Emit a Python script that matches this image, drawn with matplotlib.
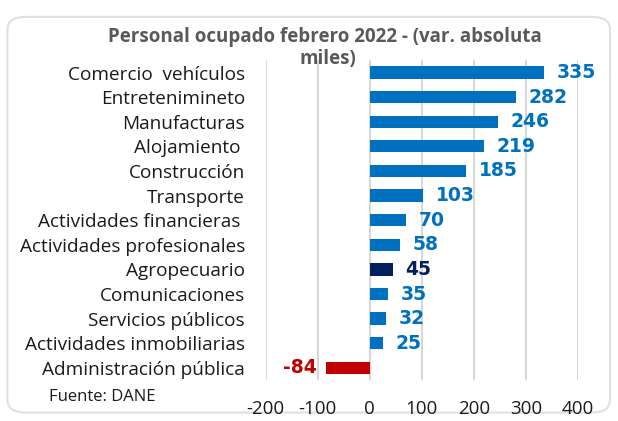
import matplotlib.pyplot as plt
from matplotlib.patches import FancyBboxPatch

# datos (var. absoluta, miles)
sectores = ['Comercio  vehículos', 'Entretenimineto', 'Manufacturas', 'Alojamiento ',
            'Construcción', 'Transporte', 'Actividades financieras ',
            'Actividades profesionales', 'Agropecuario', 'Comunicaciones',
            'Servicios públicos', 'Actividades inmobiliarias', 'Administración pública']
valores = [335, 282, 246, 219, 185, 103, 70, 58, 45, 35, 32, 25, -84]
colores = ['#0070C0'] * 8 + ['#002060'] + ['#0070C0'] * 3 + ['#C00000']
ticks_x = [-200, -100, 0, 100, 200, 300, 400]

fig = plt.figure(figsize=(6.18, 4.21), dpi=100)
fig.patches.append(FancyBboxPatch((0.012, 0.02), 0.975, 0.94, boxstyle='round,pad=0,rounding_size=0.03',
                                  transform=fig.transFigure, facecolor='white',
                                  edgecolor='#e0e0e0', linewidth=1.5, zorder=-1))

ax = fig.add_axes([0.43, 0.097, 0.505, 0.76])
y = list(range(len(sectores)))
ax.barh(y, valores, color=colores, height=0.5, zorder=3)

for yi, v, c in zip(y, valores, colores):
    if v >= 0:
        ax.annotate(str(v), (v, yi), xytext=(9, 0), textcoords='offset points',
                    ha='left', va='center', color=c, fontsize=13.5, fontweight='bold')
    else:
        ax.annotate(str(v), (v, yi), xytext=(-7, 0), textcoords='offset points',
                    ha='right', va='center', color=c, fontsize=13.5, fontweight='bold')

ax.set_xlim(-200, 400)
ax.set_ylim(len(sectores) - 0.5, -0.5)
ax.set_xticks(ticks_x)
ax.set_xticklabels([str(t) for t in ticks_x], family='Open Sans', fontsize=13.5, color='#1a1a1a')
ax.set_yticks(y)
ax.set_yticklabels(sectores, family='Open Sans', fontsize=13.7, color='#1a1a1a')
ax.tick_params(axis='both', length=0)
ax.tick_params(axis='x', pad=14)
ax.tick_params(axis='y', pad=15)
ax.grid(axis='x', color='#d0d0d0', linewidth=1.2, zorder=0)
for s in ax.spines.values():
    s.set_visible(False)

fig.text(0.525, 0.912, 'Personal ocupado febrero 2022 - (var. absoluta', ha='center', va='center',
         family='Open Sans', fontweight='bold', fontsize=13.5, color='#595959')
fig.text(0.53, 0.86, 'miles)', ha='center', va='center',
         family='Open Sans', fontweight='bold', fontsize=13.5, color='#595959')
fig.text(0.08, 0.057, 'Fuente: DANE', ha='left', va='center', family='Open Sans',
         fontsize=12, color='#1a1a1a')

fig.savefig('out.png', dpi=100)
